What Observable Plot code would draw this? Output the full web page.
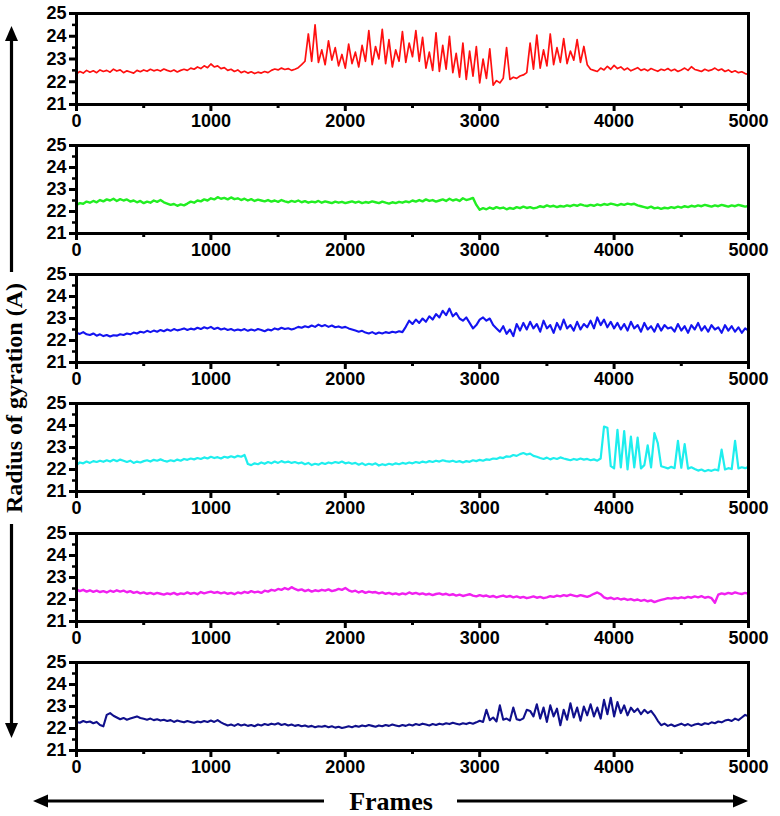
<!DOCTYPE html>
<html><head><meta charset="utf-8">
<script src="https://cdn.jsdelivr.net/npm/d3@7"></script>
<script src="https://cdn.jsdelivr.net/npm/@observablehq/plot@0.6"></script>
<style>
body{margin:0;background:#fff;}
#wrap{position:relative;width:780px;height:816px;overflow:hidden;background:#fff;}
.panel{position:absolute;left:0;}
#overlay{position:absolute;left:0;top:0;}
</style></head><body><div id="wrap"></div>
<script>
// Sampling interval of the traces (frames)
const frameStep = 25;

// Radius of gyration traces (Å), read every 25 frames, 0..5000
const rgRed = [
22.35,22.45,22.38,22.50,22.42,22.48,22.40,22.52,22.45,
22.50,22.42,22.55,22.47,22.52,22.40,22.48,22.43,
22.38,22.50,22.44,22.52,22.46,22.55,22.48,22.53,
22.47,22.56,22.50,22.45,22.52,22.43,22.50,22.55,
22.50,22.60,22.55,22.65,22.58,22.70,22.62,22.78,
22.65,22.70,22.58,22.62,22.50,22.55,22.45,22.52,
22.40,22.46,22.38,22.44,22.36,22.42,22.38,22.45,
22.40,22.50,22.56,22.52,22.60,22.54,22.58,22.50,
22.55,22.62,22.75,22.90,
24.10,22.90,24.50,22.85,23.40,22.75,23.80,22.95,
23.50,22.70,23.20,22.60,23.65,22.80,23.30,22.65,
23.60,22.90,24.25,22.75,23.55,23.00,24.30,22.80,
23.85,22.65,23.40,22.90,24.20,22.85,23.70,23.10,
24.25,22.90,23.95,22.60,23.30,22.50,24.15,22.45,
23.60,22.55,24.00,22.40,23.25,22.20,23.70,22.10,
23.35,22.25,23.55,21.95,23.00,22.15,23.45,21.85,
22.05,21.95,22.15,23.50,22.10,22.20,22.15,22.25,
22.30,22.40,23.70,22.55,24.05,22.60,23.40,22.70,
24.10,22.75,23.50,22.85,23.90,22.80,23.35,22.95,
23.85,22.85,23.55,22.75,
22.55,22.50,22.45,22.60,22.52,22.68,22.55,22.72,
22.58,22.65,22.52,22.60,22.48,22.55,22.62,22.50,
22.56,22.48,22.58,22.52,22.46,22.55,22.50,22.58,
22.48,22.55,22.45,22.52,22.60,22.50,22.66,22.54,
22.50,22.45,22.55,22.48,22.52,22.60,22.50,22.56,
22.45,22.52,22.42,22.48,22.40,22.44,22.36,22.32];

const rgGreen = [
22.30,22.38,22.35,22.45,22.40,22.48,22.42,22.52,22.46,
22.55,22.50,22.58,22.48,22.56,22.50,22.55,22.45,
22.50,22.42,22.48,22.38,22.45,22.40,22.50,22.44,
22.52,22.42,22.36,22.30,22.34,22.26,22.32,22.28,
22.36,22.45,22.40,22.50,22.46,22.55,22.50,22.60,
22.55,22.65,22.58,22.62,22.55,22.64,22.56,22.60,
22.52,22.58,22.50,22.56,22.48,22.54,22.50,22.46,
22.52,22.45,22.50,22.44,22.52,22.46,22.42,22.48,
22.44,22.50,22.42,22.47,22.40,22.45,22.42,22.48,
22.40,22.46,22.42,22.38,22.45,22.40,22.44,22.38,
22.42,22.46,22.40,22.45,22.38,22.43,22.40,22.46,
22.42,22.38,22.45,22.40,22.36,22.42,22.38,22.44,
22.40,22.46,22.42,22.50,22.45,22.52,22.46,22.55,
22.48,22.52,22.45,22.50,22.55,22.48,22.58,22.50,
22.55,22.48,22.60,22.52,22.56,22.62,22.30,22.08,
22.15,22.10,22.18,22.12,22.20,22.14,22.18,22.10,
22.16,22.12,22.20,22.15,22.22,22.16,22.20,22.14,
22.18,22.24,22.20,22.28,22.22,22.26,22.20,22.25,
22.22,22.28,22.24,22.30,22.26,22.32,22.28,22.25,
22.30,22.26,22.32,22.28,22.34,22.30,22.36,22.32,
22.28,22.34,22.30,22.36,22.32,22.35,22.28,22.24,
22.20,22.16,22.22,22.14,22.18,22.12,22.17,22.14,
22.20,22.16,22.22,22.18,22.24,22.20,22.26,22.22,
22.28,22.24,22.30,22.26,22.22,22.28,22.24,22.30,
22.26,22.22,22.28,22.24,22.30,22.26,22.22,22.25];

const rgBlue = [
22.35,22.30,22.38,22.28,22.25,22.32,22.22,22.28,22.20,
22.25,22.18,22.24,22.22,22.28,22.25,22.32,22.28,
22.36,22.32,22.40,22.36,22.44,22.38,22.45,22.40,
22.48,22.42,22.50,22.44,22.52,22.46,22.50,22.55,
22.48,22.54,22.50,22.58,22.52,22.60,22.55,22.62,
22.52,22.58,22.50,22.55,22.48,22.52,22.45,22.50,
22.46,22.52,22.44,22.50,22.45,22.52,22.48,22.42,
22.50,22.46,22.55,22.50,22.58,22.52,22.56,22.50,
22.55,22.62,22.58,22.65,22.60,22.68,22.62,22.72,
22.65,22.70,22.62,22.68,22.60,22.64,22.58,22.62,
22.55,22.50,22.45,22.40,22.44,22.36,22.32,22.38,
22.30,22.36,22.32,22.38,22.34,22.40,22.36,22.42,
22.38,22.62,22.90,22.75,22.95,22.80,23.00,22.85,
23.10,22.95,23.20,23.05,23.35,23.15,23.45,23.10,
23.25,23.00,22.90,23.05,22.80,22.55,22.70,22.95,
23.05,22.90,23.00,22.70,22.55,22.40,22.65,22.30,
22.50,22.20,22.75,22.45,22.80,22.50,22.85,22.55,
22.75,22.40,22.90,22.55,22.70,22.35,22.80,22.50,
22.95,22.55,22.70,22.45,22.85,22.50,22.75,22.60,
22.90,22.55,23.05,22.70,22.95,22.60,22.85,22.55,
22.80,22.50,22.75,22.45,22.85,22.55,22.70,22.40,
22.80,22.50,22.65,22.40,22.75,22.45,22.70,22.55,
22.60,22.40,22.75,22.45,22.65,22.35,22.70,22.50,
22.80,22.45,22.65,22.40,22.70,22.50,22.60,22.35,
22.70,22.45,22.65,22.40,22.60,22.35,22.55,22.45];

const rgCyan = [
22.20,22.32,22.28,22.36,22.30,22.38,22.34,22.40,22.35,
22.42,22.36,22.44,22.38,22.45,22.40,22.34,22.40,
22.30,22.36,22.32,22.38,22.42,22.36,22.44,22.40,
22.46,22.40,22.36,22.42,22.38,22.45,22.40,22.48,
22.44,22.50,22.46,22.52,22.48,22.55,22.50,22.58,
22.52,22.56,22.50,22.58,22.54,22.60,22.55,22.62,
22.58,22.66,22.25,22.20,22.28,22.24,22.32,22.26,
22.34,22.28,22.36,22.30,22.38,22.32,22.36,22.30,
22.34,22.28,22.32,22.24,22.30,22.20,22.26,22.22,
22.30,22.25,22.32,22.28,22.34,22.30,22.36,22.28,
22.32,22.26,22.30,22.22,22.28,22.20,22.26,22.22,
22.28,22.18,22.24,22.20,22.26,22.22,22.28,22.24,
22.30,22.26,22.32,22.28,22.34,22.30,22.36,22.32,
22.38,22.34,22.40,22.36,22.42,22.38,22.36,22.40,
22.34,22.38,22.32,22.38,22.35,22.42,22.38,22.44,
22.40,22.46,22.44,22.50,22.48,22.55,22.52,22.60,
22.58,22.66,22.62,22.70,22.75,22.68,22.72,22.62,
22.58,22.52,22.48,22.54,22.46,22.52,22.48,22.55,
22.50,22.46,22.42,22.48,22.44,22.50,22.45,22.48,
22.42,22.46,22.40,22.50,23.95,23.90,22.15,22.05,
23.80,22.10,23.75,22.00,23.50,22.10,23.45,22.05,
22.20,23.10,22.10,23.65,23.20,22.15,22.10,22.05,
22.12,22.06,23.30,22.08,23.15,22.04,22.10,22.02,
21.95,22.00,21.92,21.98,21.94,22.00,21.96,22.90,
22.00,22.06,22.02,23.30,22.05,22.10,22.06,22.12];

const rgMagenta = [
22.45,22.38,22.44,22.36,22.42,22.35,22.40,22.34,22.38,
22.32,22.40,22.35,22.42,22.36,22.40,22.33,22.38,
22.30,22.35,22.28,22.32,22.26,22.30,22.24,22.30,
22.26,22.22,22.28,22.24,22.30,22.22,22.28,22.25,
22.32,22.26,22.30,22.24,22.34,22.28,22.32,22.36,
22.30,22.34,22.28,22.32,22.26,22.30,22.24,22.32,
22.28,22.35,22.30,22.38,22.32,22.36,22.30,22.40,
22.36,22.44,22.40,22.48,22.44,22.52,22.46,22.56,
22.48,22.42,22.46,22.38,22.44,22.36,22.42,22.38,
22.44,22.40,22.46,22.38,22.42,22.48,22.44,22.52,
22.42,22.36,22.40,22.32,22.38,22.30,22.36,22.32,
22.34,22.28,22.32,22.26,22.30,22.24,22.28,22.22,
22.28,22.24,22.32,22.26,22.30,22.24,22.28,22.22,
22.26,22.20,22.25,22.28,22.22,22.26,22.20,22.24,
22.18,22.22,22.16,22.20,22.24,22.18,22.14,22.20,
22.15,22.18,22.12,22.16,22.10,22.14,22.18,22.12,
22.16,22.10,22.14,22.08,22.12,22.06,22.10,22.14,
22.08,22.12,22.06,22.10,22.15,22.12,22.18,22.14,
22.20,22.16,22.22,22.18,22.14,22.20,22.16,22.12,
22.18,22.26,22.32,22.24,22.10,22.04,22.08,22.02,
22.06,22.00,22.04,21.98,22.02,21.96,22.00,21.94,
21.98,21.92,21.96,21.88,21.94,21.98,22.02,22.06,
22.04,22.08,22.05,22.10,22.06,22.12,22.08,22.14,
22.10,22.15,22.08,22.12,22.06,21.85,22.22,22.28,
22.24,22.30,22.26,22.32,22.28,22.25,22.30,22.26];

const rgNavy = [
22.30,22.26,22.34,22.28,22.32,22.24,22.30,22.16,22.10,
22.62,22.70,22.58,22.50,22.42,22.48,22.40,22.45,
22.50,22.55,22.48,22.44,22.40,22.45,22.38,22.42,
22.36,22.40,22.34,22.38,22.30,22.36,22.32,22.28,
22.34,22.30,22.26,22.32,22.28,22.34,22.30,22.36,
22.30,22.38,22.28,22.20,22.14,22.18,22.12,22.20,
22.14,22.18,22.12,22.16,22.10,22.18,22.14,22.20,
22.16,22.22,22.18,22.24,22.16,22.20,22.14,22.18,
22.12,22.16,22.10,22.14,22.08,22.12,22.06,22.10,
22.08,22.12,22.06,22.10,22.04,22.08,22.02,22.06,
22.10,22.06,22.12,22.08,22.14,22.10,22.16,22.12,
22.08,22.14,22.10,22.16,22.12,22.18,22.14,22.10,
22.16,22.12,22.18,22.14,22.20,22.16,22.22,22.18,
22.14,22.20,22.16,22.22,22.18,22.24,22.20,22.26,
22.22,22.18,22.24,22.20,22.26,22.22,22.28,22.35,
22.30,22.85,22.38,22.50,22.32,23.05,22.40,22.45,
22.36,22.95,22.42,22.38,22.46,22.85,22.80,22.55,
23.10,22.45,22.95,22.30,23.05,22.55,22.90,22.15,
22.85,22.40,23.15,22.50,22.95,22.35,23.00,22.60,
23.10,22.55,22.95,22.45,23.30,22.65,23.40,22.55,
23.20,22.70,23.05,22.60,22.95,22.75,22.90,22.65,
22.85,22.70,22.80,22.60,22.35,22.15,22.22,22.12,
22.18,22.10,22.16,22.22,22.14,22.20,22.12,22.18,
22.22,22.16,22.24,22.20,22.28,22.24,22.32,22.28,
22.36,22.40,22.34,22.45,22.38,22.50,22.62,22.55];

const seriesColors = ["#ff1010", "#22ee22", "#1414f0", "#1eeeee", "#f020f0", "#10108c"];
const seriesWidths = [1.7, 2.4, 2.1, 2.2, 2.4, 2.1];
const seriesValues = [rgRed, rgGreen, rgBlue, rgCyan, rgMagenta, rgNavy];

const yMajorTicks = [21, 22, 23, 24, 25];
const yMinorTicks = [21.5, 22.5, 23.5, 24.5];
const xMajorTicks = [0, 1000, 2000, 3000, 4000, 5000];
const xMinorTicks = [500, 1500, 2500, 3500, 4500];

const yLabel = "Radius of gyration (A)";
const xLabel = "Frames";

const wrap = document.getElementById("wrap");
const mTop = 10, mBottom = 38;
const panelTops = [13, 145, 274, 403, 533, 662];
const panelBottoms = [104, 233, 362, 491, 621, 750];
const sansFont = "'Liberation Sans', Arial, sans-serif";

seriesValues.forEach((vals, k) => {
  const top = panelTops[k];
  const bottom = panelBottoms[k];
  const data = vals.map((v, i) => ({frame: i * frameStep, rg: v}));
  const chart = Plot.plot({
    width: 780,
    height: mTop + (bottom - top) + mBottom,
    marginLeft: 76,
    marginRight: 32,
    marginTop: mTop,
    marginBottom: mBottom,
    style: {background: "transparent", overflow: "visible", fontFamily: sansFont},
    x: {domain: [0, 5000], label: null},
    y: {domain: [21, 25], label: null},
    marks: [
      Plot.line(data, {x: "frame", y: "rg", stroke: seriesColors[k], strokeWidth: seriesWidths[k]}),
      Plot.axisY(yMinorTicks, {anchor: "left", tickSize: 4, tickFormat: () => "", strokeWidth: 2.5, label: null}),
      Plot.axisY(yMajorTicks, {anchor: "left", tickSize: 7, tickPadding: 3, strokeWidth: 3, fontSize: 18, fontWeight: "bold", fill: "black", tickFormat: d3.format("d"), label: null}),
      Plot.axisX(xMinorTicks, {anchor: "bottom", tickSize: 4, tickFormat: () => "", strokeWidth: 3, label: null}),
      Plot.axisX(xMajorTicks, {anchor: "bottom", tickSize: 7, tickPadding: 3, strokeWidth: 3, fontSize: 18, fontWeight: "bold", fill: "black", tickFormat: d3.format("d"), label: null}),
      Plot.frame({stroke: "black", strokeWidth: 3})
    ]
  });
  chart.classList.add("panel");
  chart.style.top = (top - mTop) + "px";
  wrap.appendChild(chart);
});

// Axis titles with arrows
const ov = d3.select(wrap).append("svg").attr("id", "overlay")
  .attr("width", 780).attr("height", 816);
const serif = "'Liberation Serif', 'Times New Roman', serif";
const ax = 11.5, yMid = 398;
ov.append("line").attr("x1", ax).attr("x2", ax).attr("y1", 40).attr("y2", 272)
  .attr("stroke", "black").attr("stroke-width", 3.2);
ov.append("path").attr("d", `M${ax},26 L${ax-6.5},41 L${ax+6.5},41 Z`).attr("fill", "black");
ov.append("line").attr("x1", ax).attr("x2", ax).attr("y1", 524).attr("y2", 724)
  .attr("stroke", "black").attr("stroke-width", 3.2);
ov.append("path").attr("d", `M${ax},738 L${ax-6.5},723 L${ax+6.5},723 Z`).attr("fill", "black");
ov.append("text").attr("transform", `translate(${ax+2},${yMid}) rotate(-90)`)
  .attr("text-anchor", "middle").attr("dy", "0.35em")
  .attr("font-family", serif).attr("font-weight", "bold").attr("font-size", 24)
  .text(yLabel);

const fy = 801, fx = 391;
ov.append("line").attr("x1", 46).attr("x2", 324).attr("y1", fy).attr("y2", fy)
  .attr("stroke", "black").attr("stroke-width", 3.2);
ov.append("path").attr("d", `M33,${fy} L48,${fy-6.5} L48,${fy+6.5} Z`).attr("fill", "black");
ov.append("line").attr("x1", 457).attr("x2", 735).attr("y1", fy).attr("y2", fy)
  .attr("stroke", "black").attr("stroke-width", 3.2);
ov.append("path").attr("d", `M748,${fy} L733,${fy-6.5} L733,${fy+6.5} Z`).attr("fill", "black");
ov.append("text").attr("x", fx).attr("y", fy).attr("dy", "0.35em").attr("text-anchor", "middle")
  .attr("font-family", serif).attr("font-weight", "bold").attr("font-size", 26)
  .text(xLabel);
</script></body></html>
